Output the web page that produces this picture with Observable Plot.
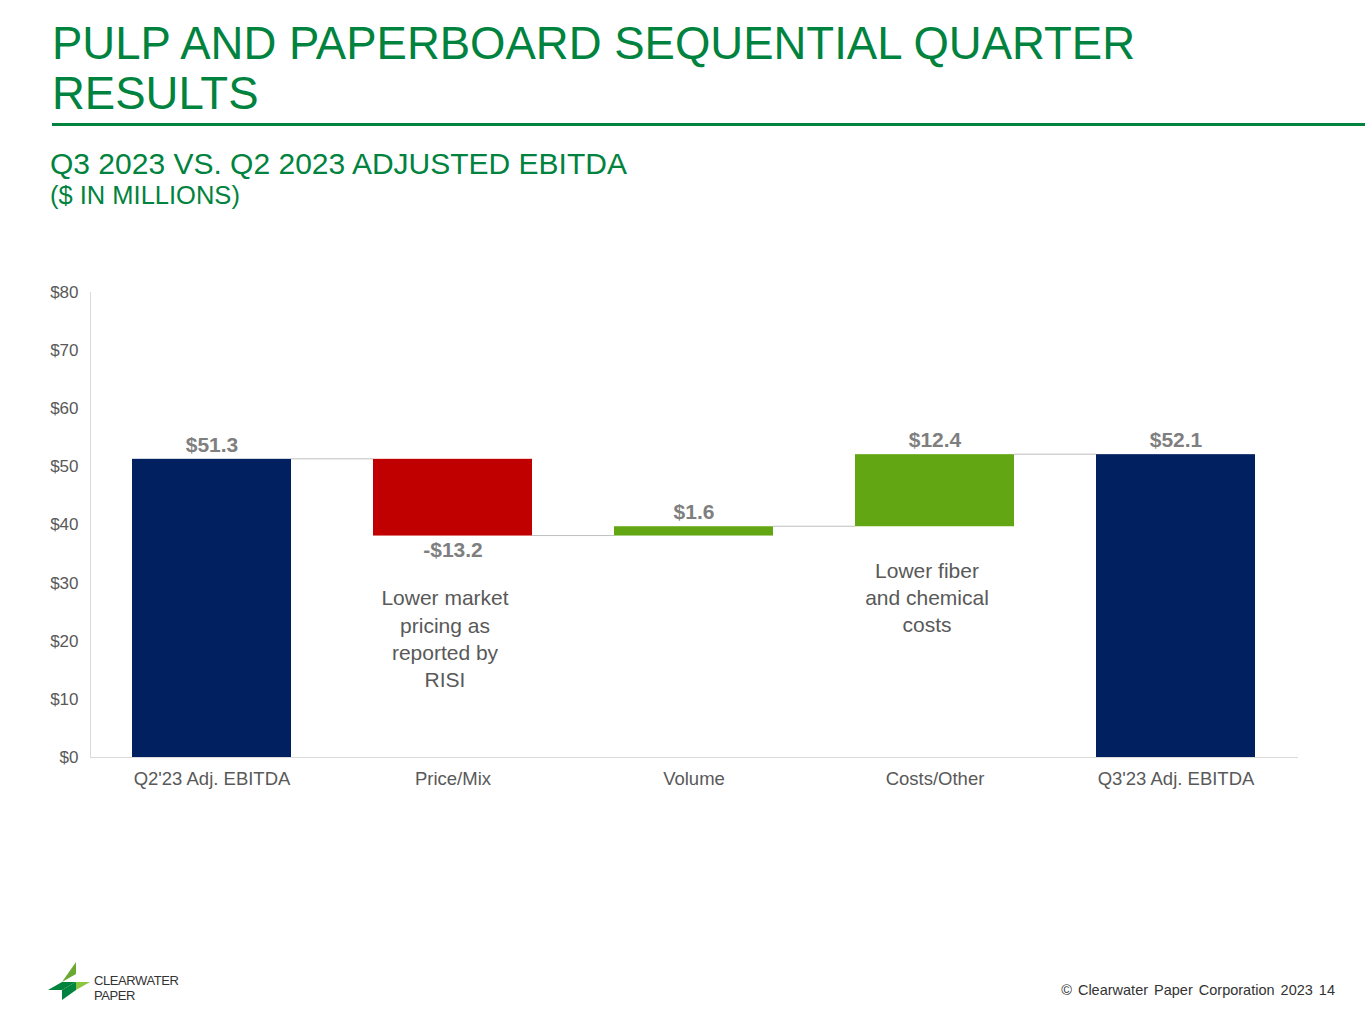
<!DOCTYPE html>
<html><head><meta charset="utf-8">
<script src="https://cdn.jsdelivr.net/npm/d3@7"></script>
<script src="https://cdn.jsdelivr.net/npm/@observablehq/plot@0.6"></script>
<style>
body{margin:0;width:1365px;height:1024px;position:relative;background:#fff;font-family:"Liberation Sans",Arial,sans-serif;overflow:hidden}
#title{position:absolute;left:52px;top:19px;color:#00833E;font-size:45.5px;line-height:50px;width:1250px}
#rule{position:absolute;left:52px;right:0;top:123px;height:3px;background:#00833E}
#sub{position:absolute;left:50px;top:147px;color:#00833E;font-size:30px;line-height:34px}
#sub2{position:absolute;left:50px;top:181px;color:#00833E;font-size:25.5px}
#chart{position:absolute;left:0;top:270px}
#foot{position:absolute;right:30px;top:982px;font-size:14.5px;color:#333;word-spacing:2px}
#logo{position:absolute;left:48px;top:960px}
</style></head><body>
<div id="title">PULP AND PAPERBOARD SEQUENTIAL QUARTER RESULTS</div>
<div id="rule"></div>
<div id="sub">Q3 2023 VS. Q2 2023 ADJUSTED EBITDA</div>
<div id="sub2">($ IN MILLIONS)</div>
<div id="chart"></div>
<div id="logo"><svg width="160" height="45">
<polygon points="14,22 28,2 28,14" fill="#6aa832"/><polygon points="0,30 14,22 28,22 14,30" fill="#00833E"/>
<polygon points="14,30 28,22 42,22 28,30" fill="#8cc63f"/><polygon points="14,40 28,30 28,22 14,30" fill="#00833E"/>
<text x="46" y="25" font-size="13" letter-spacing="-0.4" fill="#333" font-family="Liberation Sans">CLEARWATER</text>
<text x="46" y="40" font-size="13" letter-spacing="-0.4" fill="#333" font-family="Liberation Sans">PAPER</text></svg></div>
<div id="foot">© Clearwater Paper Corporation 2023 14</div>
<script>
const categories = ["Q2'23 Adj. EBITDA","Price/Mix","Volume","Costs/Other","Q3'23 Adj. EBITDA"];
const changes = [51.3, -13.2, 1.6, 12.4, 52.1];
const kinds = ["total","neg","pos","pos","total"];
const labels = ["$51.3","-$13.2","$1.6","$12.4","$52.1"];
const notes = [null,"Lower market\npricing as\nreported by\nRISI",null,"Lower fiber\nand chemical\ncosts",null];
const noteTop = [null,29.5,null,34.3,null];
const yTicks = [0,10,20,30,40,50,60,70,80];

let run = 0;
const rows = categories.map((c,i)=>{
  let y1,y2;
  if(kinds[i]==="total"){y1=0;y2=changes[i];run=changes[i];}
  else {y1=run;y2=run+changes[i];run=y2;}
  return {cat:c,y1,y2,kind:kinds[i],label:labels[i],note:notes[i],noteY:noteTop[i]};
});
const links = rows.slice(0,-1).map((r,i)=>({a:r.cat,b:rows[i+1].cat,y:r.y2}));
const colors = {total:"#002060",neg:"#C00000",pos:"#62A713"};

const plot = Plot.plot({
  width:1365,height:527,marginLeft:90,marginRight:67,marginTop:22,marginBottom:40,
  style:{fontFamily:"Liberation Sans, Arial, sans-serif",fontSize:"18px",color:"#595959"},
  x:{domain:categories,paddingInner:0.34,paddingOuter:0.17,label:null,tickSize:0,tickPadding:16},
  y:{domain:[0,80],label:null},
  marks:[
    Plot.frame({anchor:"left",stroke:"#d9d9d9"}),
    Plot.barY(rows,{x:"cat",y1:"y1",y2:"y2",fill:d=>colors[d.kind]}),
    Plot.ruleY(links,{y:"y",
      render:(idx,sc)=>{
        const g=d3.create("svg:g");
        const bw=sc.x.bandwidth();
        for(const i of idx){const l=links[i];const yy=sc.y(l.y);
          g.append("line").attr("x1",sc.x(l.a)+bw).attr("x2",sc.x(l.b)).attr("y1",yy).attr("y2",yy).attr("stroke","#bfbfbf");}
        return g.node();}}),
    Plot.ruleY([0],{stroke:"#d9d9d9"}),
    Plot.axisX({tickSize:0,tickPadding:14,fontSize:18.5,fill:"#595959",label:null}),
    Plot.axisY({ticks:yTicks,tickFormat:d=>"$"+d,tickSize:0,tickPadding:12,fontSize:17,fill:"#595959",label:null}),
    Plot.text(rows.filter(d=>d.kind!=="neg"),{x:"cat",y:"y2",dy:-14,text:"label",fontSize:21,fontWeight:"bold",fill:"#7f7f7f"}),
    Plot.text(rows.filter(d=>d.kind==="neg"),{x:"cat",y:"y2",dy:14,text:"label",fontSize:21,fontWeight:"bold",fill:"#7f7f7f"}),
    Plot.text(rows.filter(d=>d.note),{x:"cat",y:"noteY",dx:-8,text:"note",lineAnchor:"top",lineHeight:1.3,fontSize:21,fill:"#595959"})
  ]
});
document.getElementById("chart").appendChild(plot);
</script></body></html>
